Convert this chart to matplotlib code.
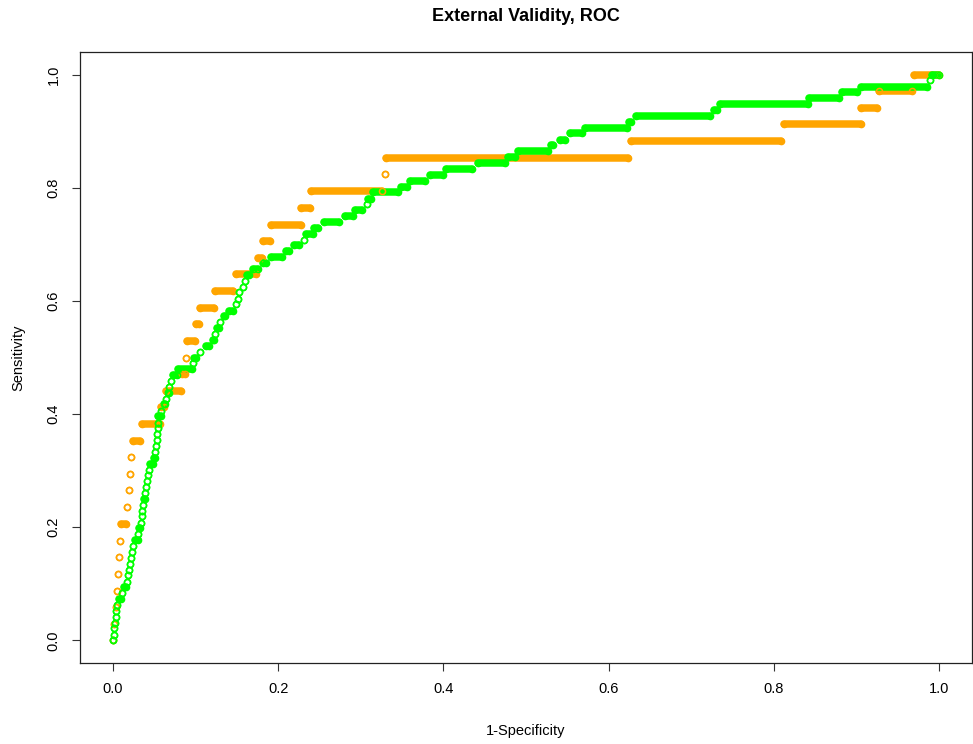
import matplotlib
matplotlib.use("Agg")
import matplotlib.pyplot as plt

plt.rcParams['font.family'] = ['Liberation Sans', 'DejaVu Sans']

# ROC of the orange model: one sensitivity level per row,
# with the first and last 1-specificity seen at that level
orange_sens = [0.000, 0.029, 0.059, 0.088, 0.118, 0.147, 0.176, 0.206, 0.235,
               0.265, 0.294, 0.324, 0.353, 0.382, 0.412, 0.441, 0.471, 0.500,
               0.529, 0.559, 0.588, 0.618, 0.647, 0.676, 0.706, 0.735, 0.765,
               0.794, 0.824, 0.853, 0.882, 0.912, 0.941, 0.971, 1.000]
orange_fpr_from = [0.000, 0.0015, 0.0035, 0.005, 0.006, 0.007, 0.0085, 0.010, 0.017,
                   0.019, 0.0205, 0.022, 0.024, 0.035, 0.058, 0.064, 0.083, 0.088,
                   0.089, 0.101, 0.105, 0.124, 0.149, 0.175, 0.182, 0.191, 0.228,
                   0.240, 0.329, 0.331, 0.627, 0.812, 0.906, 0.928, 0.970]
orange_fpr_to = [0.000, 0.0015, 0.0035, 0.005, 0.006, 0.007, 0.0085, 0.016, 0.017,
                 0.019, 0.0205, 0.022, 0.033, 0.057, 0.062, 0.082, 0.087, 0.088,
                 0.099, 0.104, 0.122, 0.145, 0.173, 0.180, 0.190, 0.227, 0.239,
                 0.326, 0.329, 0.624, 0.809, 0.905, 0.925, 0.967, 1.000]

# ROC of the green model
green_sens = [0.000, 0.010, 0.021, 0.031, 0.042, 0.052, 0.063, 0.073, 0.083, 0.094,
              0.104, 0.115, 0.125, 0.135, 0.146, 0.156, 0.167, 0.177, 0.188, 0.198,
              0.208, 0.219, 0.229, 0.240, 0.250, 0.260, 0.271, 0.281, 0.292, 0.302,
              0.312, 0.323, 0.333, 0.344, 0.354, 0.365, 0.375, 0.385, 0.396, 0.406,
              0.417, 0.427, 0.438, 0.448, 0.458, 0.469, 0.479, 0.490, 0.500, 0.510,
              0.521, 0.531, 0.542, 0.552, 0.562, 0.573, 0.583, 0.594, 0.604, 0.615,
              0.625, 0.635, 0.646, 0.656, 0.667, 0.677, 0.688, 0.698, 0.708, 0.719,
              0.729, 0.740, 0.750, 0.760, 0.771, 0.781, 0.792, 0.802, 0.812, 0.823,
              0.833, 0.844, 0.854, 0.865, 0.875, 0.885, 0.896, 0.906, 0.917, 0.927,
              0.938, 0.948, 0.958, 0.969, 0.979, 0.990, 1.000]
green_fpr_from = [0.000, 0.001, 0.001, 0.002, 0.003, 0.004, 0.005, 0.007, 0.011, 0.013,
                  0.017, 0.018, 0.019, 0.020, 0.022, 0.023, 0.024, 0.027, 0.030, 0.031,
                  0.034, 0.035, 0.035, 0.036, 0.037, 0.039, 0.040, 0.041, 0.042, 0.044,
                  0.045, 0.050, 0.051, 0.052, 0.053, 0.053, 0.054, 0.054, 0.055, 0.058,
                  0.062, 0.064, 0.066, 0.068, 0.070, 0.072, 0.079, 0.097, 0.098, 0.105,
                  0.113, 0.121, 0.123, 0.126, 0.130, 0.134, 0.140, 0.149, 0.151, 0.153,
                  0.157, 0.160, 0.162, 0.170, 0.182, 0.191, 0.210, 0.219, 0.231, 0.234,
                  0.243, 0.255, 0.281, 0.293, 0.307, 0.309, 0.315, 0.349, 0.360, 0.384,
                  0.403, 0.442, 0.478, 0.490, 0.530, 0.541, 0.553, 0.571, 0.625, 0.633,
                  0.728, 0.735, 0.843, 0.882, 0.905, 0.989, 0.991]
green_fpr_to = [0.000, 0.001, 0.001, 0.002, 0.003, 0.004, 0.005, 0.010, 0.011, 0.016,
                0.017, 0.018, 0.019, 0.020, 0.022, 0.023, 0.024, 0.030, 0.030, 0.033,
                0.034, 0.035, 0.035, 0.036, 0.039, 0.039, 0.040, 0.041, 0.042, 0.044,
                0.048, 0.051, 0.051, 0.052, 0.053, 0.053, 0.054, 0.054, 0.058, 0.058,
                0.063, 0.064, 0.068, 0.068, 0.070, 0.078, 0.096, 0.097, 0.100, 0.105,
                0.116, 0.122, 0.123, 0.128, 0.130, 0.136, 0.145, 0.149, 0.151, 0.153,
                0.157, 0.160, 0.165, 0.176, 0.185, 0.205, 0.213, 0.225, 0.231, 0.242,
                0.248, 0.273, 0.290, 0.302, 0.307, 0.312, 0.345, 0.356, 0.378, 0.400,
                0.435, 0.475, 0.487, 0.527, 0.533, 0.547, 0.568, 0.622, 0.627, 0.723,
                0.731, 0.841, 0.879, 0.901, 0.986, 0.989, 1.000]

ticks = [0.0, 0.2, 0.4, 0.6, 0.8, 1.0]


def draw_roc(ax, sens, fpr_from, fpr_to, color):
    # runs of points at one sensitivity merge into a solid rounded bar
    for s, a, b in zip(sens, fpr_from, fpr_to):
        if b > a:
            ax.plot([a, b], [s, s], color=color, lw=5.4,
                    solid_capstyle='round', zorder=2)
    ax.plot(fpr_from + fpr_to, sens + sens, linestyle='none', marker='o',
            mfc='none', mec=color, ms=4.4, mew=1.1, zorder=3)


fig = plt.figure(figsize=(9.73, 7.44), dpi=100)
ax = fig.add_axes([80 / 973, 81 / 744, 892 / 973, 611 / 744])

draw_roc(ax, orange_sens, orange_fpr_from, orange_fpr_to, '#FFA500')
draw_roc(ax, green_sens, green_fpr_from, green_fpr_to, '#00FF00')

ax.set_xlim(-0.04, 1.04)
ax.set_ylim(-0.04, 1.04)
ax.set_xticks(ticks)
ax.set_yticks(ticks)
ax.set_xticklabels(['%.1f' % t for t in ticks], fontsize=10.5)
ax.set_yticklabels(['%.1f' % t for t in ticks], fontsize=10.5,
                   rotation=90, va='center')
ax.tick_params(length=6, width=0.8, pad=8, color='#333333')
for sp in ax.spines.values():
    sp.set_linewidth(0.9)
    sp.set_color('#222222')

ax.set_xlabel('1-Specificity', fontsize=10.5, labelpad=19.5)
ax.set_ylabel('Sensitivity', fontsize=10.5, labelpad=15)
ax.set_title('External Validity, ROC', fontsize=13, fontweight='bold', pad=22)

fig.savefig('out.png', dpi=100)
